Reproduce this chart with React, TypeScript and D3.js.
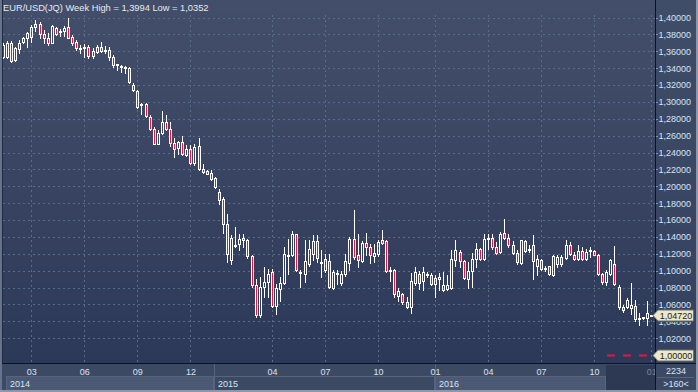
import React from "react";
import * as d3 from "d3";

// weekly EUR/USD candles (160 bars)
const opens = [
  1.3537, 1.3537, 1.3695, 1.35, 1.3624, 1.3715, 1.3755, 1.3766, 1.3893, 1.3925,
  1.3806, 1.3754, 1.3703, 1.3873, 1.3838, 1.3842, 1.3885, 1.3774, 1.3707, 1.3644,
  1.3636, 1.3655, 1.3545, 1.3596, 1.3655, 1.3612, 1.3616, 1.3537, 1.3446, 1.3426,
  1.3402, 1.3398, 1.32, 1.3129, 1.297, 1.297, 1.2824, 1.2685, 1.2507, 1.2626,
  1.2764, 1.2674, 1.2515, 1.2456, 1.2523, 1.2368, 1.2448, 1.2277, 1.2475, 1.221,
  1.2178, 1.2158, 1.2099, 1.1932, 1.1854, 1.1557, 1.1129, 1.1305, 1.1311, 1.139,
  1.1367, 1.1168, 1.0824, 1.0479, 1.0803, 1.0863, 1.0982, 1.0586, 1.0784, 1.0851,
  1.1185, 1.118, 1.143, 1.0985, 1.0955, 1.1081, 1.12, 1.135, 1.11, 1.101,
  1.1109, 1.0796, 1.0975, 1.0851, 1.0955, 1.1089, 1.1379, 1.1188, 1.112, 1.1326,
  1.1279, 1.1176, 1.12, 1.1358, 1.1346, 1.101, 1.101, 1.0705, 1.0725, 1.0633,
  1.0566, 1.0851, 1.0963, 1.0883, 1.0955, 1.0954, 1.0843, 1.0923, 1.0772, 1.078,
  1.0796, 1.1121, 1.122, 1.1109, 1.0903, 1.099, 1.1141, 1.1259, 1.1141, 1.1382,
  1.139, 1.1279, 1.122, 1.1449, 1.139, 1.1307, 1.1208, 1.1089, 1.135, 1.1259,
  1.1307, 1.1061, 1.1121, 1.1032, 1.105, 1.0954, 1.1073, 1.116, 1.1153, 1.1307,
  1.1188, 1.1133, 1.1228, 1.1133, 1.1241, 1.1228, 1.118, 1.0962, 1.0863, 1.0962,
  1.1073, 1.0812, 1.0574, 1.0574, 1.0554, 1.0578, 1.0443, 1.0447, 1.0439, 1.0468,
];
const highs = [
  1.37, 1.372, 1.372, 1.365, 1.3735, 1.3775, 1.3834, 1.3913, 1.3972, 1.3952,
  1.3853, 1.3814, 1.3913, 1.3885, 1.386, 1.39, 1.3994, 1.3794, 1.3735, 1.3675,
  1.3683, 1.3675, 1.3636, 1.3675, 1.3707, 1.3663, 1.3655, 1.3557, 1.3454, 1.3434,
  1.3426, 1.341, 1.3228, 1.3141, 1.2982, 1.299, 1.2844, 1.2705, 1.2665, 1.2891,
  1.2844, 1.2764, 1.2578, 1.2535, 1.2598, 1.2487, 1.2487, 1.2499, 1.2567, 1.227,
  1.219, 1.219, 1.2111, 1.1973, 1.1873, 1.1676, 1.1418, 1.1516, 1.1438, 1.1438,
  1.1379, 1.118, 1.0903, 1.0922, 1.1041, 1.1022, 1.1022, 1.0844, 1.0922, 1.1279,
  1.1379, 1.1465, 1.1438, 1.1002, 1.1367, 1.1367, 1.1418, 1.1418, 1.124, 1.12,
  1.12, 1.1002, 1.1002, 1.099, 1.12, 1.1398, 1.1715, 1.1438, 1.135, 1.1445,
  1.132, 1.132, 1.1358, 1.1485, 1.1358, 1.104, 1.1022, 1.0796, 1.0732, 1.0685,
  1.097, 1.1041, 1.0993, 1.1041, 1.0982, 1.097, 1.0954, 1.097, 1.0982, 1.0954,
  1.1248, 1.1366, 1.124, 1.1121, 1.1101, 1.1208, 1.1327, 1.1271, 1.1437, 1.1437,
  1.1437, 1.1339, 1.1457, 1.1608, 1.1437, 1.135, 1.124, 1.1366, 1.1366, 1.1299,
  1.1418, 1.118, 1.1141, 1.105, 1.1061, 1.118, 1.118, 1.118, 1.1358, 1.1339,
  1.122, 1.1307, 1.1279, 1.1259, 1.1279, 1.124, 1.1192, 1.097, 1.1002, 1.1141,
  1.1287, 1.0824, 1.0598, 1.0677, 1.0855, 1.0653, 1.0495, 1.0455, 1.0645, 1.048,
];
const lows = [
  1.3517, 1.352, 1.347, 1.348, 1.3576, 1.3695, 1.3648, 1.3715, 1.3846, 1.3754,
  1.3695, 1.3675, 1.3695, 1.3794, 1.378, 1.378, 1.3754, 1.3675, 1.3616, 1.3576,
  1.3537, 1.3517, 1.3517, 1.3576, 1.3596, 1.3576, 1.3497, 1.3418, 1.3378, 1.3358,
  1.3339, 1.322, 1.3129, 1.2923, 1.2855, 1.2824, 1.2673, 1.2499, 1.2499, 1.2618,
  1.2666, 1.2475, 1.2348, 1.2388, 1.2368, 1.2356, 1.2262, 1.225, 1.2198, 1.2158,
  1.214, 1.208, 1.1984, 1.1795, 1.1445, 1.11, 1.1081, 1.1279, 1.124, 1.1279,
  1.1153, 1.0803, 1.0455, 1.0447, 1.0685, 1.0693, 1.0566, 1.0487, 1.0645, 1.0844,
  1.0963, 1.1168, 1.0993, 1.0803, 1.0863, 1.1061, 1.1121, 1.11, 1.0922, 1.0982,
  1.0796, 1.0784, 1.0844, 1.083, 1.0942, 1.1002, 1.1141, 1.1049, 1.11, 1.118,
  1.1089, 1.11, 1.1168, 1.1311, 1.0982, 1.088, 1.0685, 1.0645, 1.0606, 1.0558,
  1.0494, 1.0824, 1.0784, 1.0772, 1.0922, 1.0835, 1.0685, 1.0772, 1.0764, 1.0772,
  1.0784, 1.1061, 1.1041, 1.0903, 1.0796, 1.0804, 1.1041, 1.1121, 1.1129, 1.1259,
  1.1259, 1.12, 1.1208, 1.1378, 1.1279, 1.12, 1.1081, 1.1081, 1.122, 1.122,
  1.0903, 1.0943, 1.1002, 1.0994, 1.0943, 1.0934, 1.1041, 1.1061, 1.1141, 1.118,
  1.1121, 1.1121, 1.1121, 1.1121, 1.116, 1.118, 1.0954, 1.0843, 1.0824, 1.0943,
  1.0824, 1.0546, 1.0507, 1.0558, 1.0487, 1.0408, 1.0352, 1.0431, 1.036, 1.046,
];
const closes = [
  1.3675, 1.3695, 1.349, 1.364, 1.3695, 1.3755, 1.3814, 1.3893, 1.3925, 1.3806,
  1.3754, 1.3695, 1.3901, 1.3806, 1.3842, 1.3881, 1.3762, 1.3695, 1.3636, 1.3628,
  1.3655, 1.3545, 1.3608, 1.3655, 1.3608, 1.3616, 1.3537, 1.3438, 1.3438, 1.3418,
  1.3414, 1.324, 1.3141, 1.2943, 1.2962, 1.2832, 1.2685, 1.2507, 1.2626, 1.2764,
  1.2674, 1.2515, 1.2448, 1.2523, 1.238, 1.2448, 1.2277, 1.2467, 1.221, 1.217,
  1.2151, 1.2092, 1.1992, 1.1834, 1.1557, 1.1192, 1.139, 1.1299, 1.1379, 1.1367,
  1.1168, 1.0824, 1.0479, 1.0812, 1.0863, 1.0963, 1.0586, 1.0796, 1.0851, 1.1192,
  1.118, 1.1438, 1.101, 1.0982, 1.1109, 1.126, 1.135, 1.1153, 1.1105, 1.1141,
  1.0812, 1.0982, 1.0978, 1.0963, 1.1109, 1.1379, 1.116, 1.1129, 1.1326, 1.1279,
  1.1188, 1.1208, 1.1338, 1.1326, 1.0993, 1.1005, 1.0725, 1.0764, 1.0625, 1.0574,
  1.0875, 1.0982, 1.0851, 1.0982, 1.0958, 1.0843, 1.0915, 1.0899, 1.0824, 1.083,
  1.1141, 1.1248, 1.1113, 1.0911, 1.099, 1.1141, 1.1259, 1.1141, 1.1378, 1.1386,
  1.1279, 1.1208, 1.1437, 1.139, 1.1299, 1.1208, 1.1101, 1.1358, 1.1232, 1.124,
  1.1109, 1.1141, 1.1022, 1.1028, 1.0962, 1.1168, 1.116, 1.1073, 1.1307, 1.1192,
  1.1133, 1.1228, 1.1133, 1.122, 1.1237, 1.1188, 1.0962, 1.0863, 1.0982, 1.1129,
  1.0843, 1.0566, 1.0534, 1.0653, 1.0594, 1.0427, 1.0439, 1.0443, 1.0495, 1.0472,
];

const monthTickBars = [7, 20, 33, 46, 66, 79, 92, 106, 119, 132, 145, 159];
const monthTickLabels = ["03", "06", "09", "12", "04", "07", "10", "01", "04", "07", "10", "01"];
const yearLabels = ["2014", "2015", "2016"];
const yearStartBars = [0.7, 51.7, 106];
const windowStartBar = 147.8;
const yTickValues = [
  1.4, 1.38, 1.36, 1.34, 1.32, 1.3, 1.28, 1.26, 1.24, 1.22, 1.2, 1.18, 1.16, 1.14,
  1.12, 1.1, 1.08, 1.06, 1.04, 1.02,
];
const lastPrice = 1.0472;
const refLevel = 1.0;
const title = "EUR/USD(JQ) Week High = 1,3994 Low = 1,0352";
const infoTop = "2234";
const infoBottom = ">160<";

const W = 698;
const H = 392;
const plot = { left: 3, right: 655, bottom: 363 };
const font = "'Liberation Sans', Arial, sans-serif";
const red = "#e3163f";
const txt = "#d9e3f3";

const fmt = (v: number) => v.toFixed(5).replace(".", ",");

const App = () => {
  const x = d3.scaleLinear().domain([0, opens.length - 1]).range([3.3, 651.7]);
  const y = d3.scaleLinear().domain([1.0, 1.4]).range([355, 17.6]);

  const tagHalf = 5.5;
  const lastY = Math.round(y(lastPrice)) + 0.5;

  const priceTag = (v: number, key: string) => {
    const cy = Math.round(y(v)) + 0.5;
    const pts = [
      [653, cy],
      [658, cy - tagHalf],
      [693.5, cy - tagHalf],
      [693.5, cy + tagHalf],
      [658, cy + tagHalf],
    ];
    return (
      <g key={key}>
        <polygon points={pts.map((p) => p.join(",")).join(" ")} fill="#ebe8cb" stroke="#6e6e66" strokeWidth={1} />
        <text x={676} y={cy + 3.3} fontSize={9} fill="#1b1b1b" textAnchor="middle" fontFamily={font}>
          {fmt(v)}
        </text>
      </g>
    );
  };

  return (
    <svg width={W} height={H} style={{ position: "fixed", left: 0, top: 0, display: "block" }}>
      <defs>
        <linearGradient id="bg" x1="0" y1="0" x2="0" y2="1">
          <stop offset="0%" stopColor="#434f6a" />
          <stop offset="100%" stopColor="#2b3757" />
        </linearGradient>
        <linearGradient id="panel" x1="0" y1="0" x2="0" y2="1">
          <stop offset="0%" stopColor="#404d68" />
          <stop offset="100%" stopColor="#33415f" />
        </linearGradient>
        <clipPath id="plotClip">
          <rect x={plot.left} y={0} width={plot.right - plot.left} height={plot.bottom} />
        </clipPath>
        <clipPath id="axisClip">
          <rect x={0} y={plot.bottom} width={plot.right} height={30} />
        </clipPath>
        {/* the last-price tag hides the upper part of the axis label under it */}
        <clipPath id="underTag">
          <rect x={plot.right} y={lastY + tagHalf + 1} width={W - plot.right} height={40} />
        </clipPath>
      </defs>

      <rect x={0} y={0} width={W} height={H} fill="url(#bg)" />
      <rect x={plot.right} y={0} width={W - plot.right} height={plot.bottom} fill="url(#panel)" />

      {/* grid */}
      <g clipPath="url(#plotClip)">
        {yTickValues.map((v) => (
          <line
            key={"h" + v}
            x1={plot.left}
            x2={plot.right}
            y1={Math.round(y(v)) + 0.5}
            y2={Math.round(y(v)) + 0.5}
            stroke="#5b6a87"
            strokeDasharray="2,3"
          />
        ))}
        {monthTickBars.map((b, i) => (
          <line
            key={"v" + i}
            x1={Math.floor(x(b)) + 0.5}
            x2={Math.floor(x(b)) + 0.5}
            y1={15}
            y2={plot.bottom}
            stroke="#5b6a87"
            strokeDasharray="2,3"
          />
        ))}
      </g>

      {/* candles */}
      <g clipPath="url(#plotClip)">
        {opens.map((o, i) => {
          const c = closes[i];
          const px = Math.floor(x(i));
          const top = Math.round(y(Math.max(o, c)));
          let bot = Math.round(y(Math.min(o, c)));
          if (bot - top < 1) bot = top + 1;
          const hi = Math.round(y(highs[i]));
          const lo = Math.round(y(lows[i]));
          return (
            <g key={i}>
              {hi < top && <line x1={px + 0.5} x2={px + 0.5} y1={hi} y2={top} stroke="#fff" />}
              {lo > bot && <line x1={px + 0.5} x2={px + 0.5} y1={bot + 1} y2={lo + 1} stroke="#fff" />}
              <rect
                x={px - 0.5}
                y={top + 0.5}
                width={2}
                height={bot - top}
                fill={c < o ? red : "none"}
                stroke="#fff"
                strokeWidth={1}
              />
            </g>
          );
        })}
      </g>

      {/* reference level */}
      <line
        x1={607}
        x2={650}
        y1={Math.round(y(refLevel)) + 0.5}
        y2={Math.round(y(refLevel)) + 0.5}
        stroke={red}
        strokeWidth={2}
        strokeDasharray="8,8"
      />

      <text x={3} y={11} fontSize={9.3} fill="#e6ebf3" fontFamily={font}>
        {title}
      </text>

      {/* bottom axis */}
      <rect x={0} y={plot.bottom} width={W} height={H - plot.bottom} fill="#3c4963" />
      {yearLabels.map((lab, i) => {
        const x0 = Math.floor(x(yearStartBars[i]));
        const x1 = i < yearLabels.length - 1 ? Math.floor(x(yearStartBars[i + 1])) : Math.floor(x(windowStartBar));
        return (
          <g key={lab}>
            <rect x={x0 + 0.5} y={376.5} width={x1 - x0 - 1} height={14} fill={i % 2 === 0 ? "#4b5975" : "#3c4963"} stroke="#56647e" />
            {i > 0 && <line x1={x0 + 0.5} x2={x0 + 0.5} y1={plot.bottom} y2={390} stroke="#56647e" />}
            <text x={x0 + 4} y={387} fontSize={9} fill={txt} fontFamily={font}>
              {lab}
            </text>
          </g>
        );
      })}
      <rect
        x={Math.floor(x(windowStartBar))}
        y={plot.bottom + 2}
        width={plot.right - Math.floor(x(windowStartBar))}
        height={H - plot.bottom - 4}
        fill="#2d3953"
      />
      <g clipPath="url(#axisClip)">
        {monthTickBars.map((b, i) => (
          <text
            key={"m" + i}
            x={x(b)}
            y={375}
            fontSize={9}
            textAnchor="middle"
            fill={b >= windowStartBar ? "#7c889e" : txt}
            fontFamily={font}
          >
            {monthTickLabels[i]}
          </text>
        ))}
      </g>

      {/* right axis */}
      {yTickValues.map((v) => {
        const ly = Math.round(y(v)) + 0.5;
        const hidden = Math.abs(ly - lastY) < tagHalf + 4;
        return (
          <g key={"yl" + v} clipPath={hidden ? "url(#underTag)" : undefined}>
            <line x1={plot.right} x2={658} y1={ly} y2={ly} stroke="#8893a8" />
            <text x={658.5} y={y(v) + 3.4} fontSize={9} fill={txt} fontFamily={font}>
              {fmt(v)}
            </text>
          </g>
        );
      })}
      <line x1={plot.right + 0.5} x2={plot.right + 0.5} y1={0} y2={H} stroke="#0c121e" />
      <line x1={0} x2={W} y1={plot.bottom + 0.5} y2={plot.bottom + 0.5} stroke="#0c121e" />
      <line x1={plot.right + 2} x2={694} y1={377.5} y2={377.5} stroke="#56647e" />
      <text x={676} y={374} fontSize={9} textAnchor="middle" fill={txt} fontFamily={font}>
        {infoTop}
      </text>
      <text x={676} y={387} fontSize={9} textAnchor="middle" fill={txt} fontFamily={font}>
        {infoBottom}
      </text>

      {priceTag(lastPrice, "last")}
      {priceTag(refLevel, "ref")}

      {/* window frame */}
      <rect x={0} y={0} width={2} height={H} fill="#66738c" />
      <line x1={2.5} x2={2.5} y1={0} y2={plot.bottom} stroke="#1f2a40" />
      <rect x={W - 2} y={0} width={2} height={H} fill="#8d97aa" />
      <rect x={0} y={H - 2} width={W} height={2} fill="#8d97aa" />
    </svg>
  );
};

export default App;
